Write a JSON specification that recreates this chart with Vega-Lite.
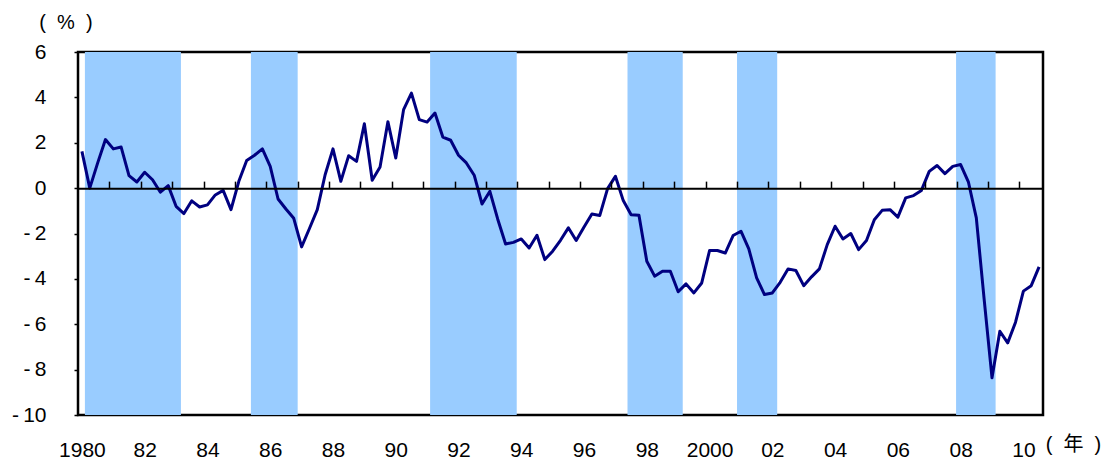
{
  "$schema": "https://vega.github.io/schema/vega-lite/v6.json",
  "width": 965,
  "height": 363,
  "autosize": {"type": "none"},
  "padding": {"left": 78, "top": 52, "right": 67, "bottom": 44},
  "background": "white",
  "config": {
    "view": {"stroke": "black", "strokeWidth": 2.5},
    "font": "Liberation Sans",
    "axis": {"labelFont": "Liberation Sans", "labelFontSize": 21, "labelColor": "black", "titleColor": "black", "grid": false}
  },
  "datasets": {
    "bands": [
      {"start": 1980.22, "end": 1983.28},
      {"start": 1985.51, "end": 1987.0},
      {"start": 1991.22, "end": 1993.98},
      {"start": 1997.51, "end": 1999.27},
      {"start": 2001.0, "end": 2002.28},
      {"start": 2007.98, "end": 2009.24}
    ],
    "series": [
      {"t": 1980.125, "v": 1.62}, {"t": 1980.375, "v": 0.0}, {"t": 1980.625, "v": 1.1}, {"t": 1980.875, "v": 2.14},
      {"t": 1981.125, "v": 1.73}, {"t": 1981.375, "v": 1.81}, {"t": 1981.625, "v": 0.55}, {"t": 1981.875, "v": 0.27},
      {"t": 1982.125, "v": 0.70}, {"t": 1982.375, "v": 0.37}, {"t": 1982.625, "v": -0.18}, {"t": 1982.875, "v": 0.11},
      {"t": 1983.125, "v": -0.80}, {"t": 1983.375, "v": -1.12}, {"t": 1983.625, "v": -0.56}, {"t": 1983.875, "v": -0.83},
      {"t": 1984.125, "v": -0.74}, {"t": 1984.375, "v": -0.30}, {"t": 1984.625, "v": -0.10}, {"t": 1984.875, "v": -0.95},
      {"t": 1985.125, "v": 0.30}, {"t": 1985.375, "v": 1.22}, {"t": 1985.625, "v": 1.45}, {"t": 1985.875, "v": 1.73},
      {"t": 1986.125, "v": 0.96}, {"t": 1986.375, "v": -0.48}, {"t": 1986.625, "v": -0.92}, {"t": 1986.875, "v": -1.33},
      {"t": 1987.125, "v": -2.59}, {"t": 1987.375, "v": -1.78}, {"t": 1987.625, "v": -0.95}, {"t": 1987.875, "v": 0.59},
      {"t": 1988.125, "v": 1.73}, {"t": 1988.375, "v": 0.30}, {"t": 1988.625, "v": 1.43}, {"t": 1988.875, "v": 1.18},
      {"t": 1989.125, "v": 2.84}, {"t": 1989.375, "v": 0.35}, {"t": 1989.625, "v": 0.93}, {"t": 1989.875, "v": 2.93},
      {"t": 1990.125, "v": 1.33}, {"t": 1990.375, "v": 3.46}, {"t": 1990.625, "v": 4.19}, {"t": 1990.875, "v": 3.02},
      {"t": 1991.125, "v": 2.91}, {"t": 1991.375, "v": 3.31}, {"t": 1991.625, "v": 2.25}, {"t": 1991.875, "v": 2.11},
      {"t": 1992.125, "v": 1.45}, {"t": 1992.375, "v": 1.11}, {"t": 1992.625, "v": 0.57}, {"t": 1992.875, "v": -0.70},
      {"t": 1993.125, "v": -0.14}, {"t": 1993.375, "v": -1.37}, {"t": 1993.625, "v": -2.46}, {"t": 1993.875, "v": -2.39},
      {"t": 1994.125, "v": -2.24}, {"t": 1994.375, "v": -2.64}, {"t": 1994.625, "v": -2.08}, {"t": 1994.875, "v": -3.15},
      {"t": 1995.125, "v": -2.78}, {"t": 1995.375, "v": -2.30}, {"t": 1995.625, "v": -1.75}, {"t": 1995.875, "v": -2.31},
      {"t": 1996.125, "v": -1.71}, {"t": 1996.375, "v": -1.14}, {"t": 1996.625, "v": -1.21}, {"t": 1996.875, "v": -0.02},
      {"t": 1997.125, "v": 0.52}, {"t": 1997.375, "v": -0.55}, {"t": 1997.625, "v": -1.17}, {"t": 1997.875, "v": -1.20},
      {"t": 1998.125, "v": -3.22}, {"t": 1998.375, "v": -3.88}, {"t": 1998.625, "v": -3.66}, {"t": 1998.875, "v": -3.66},
      {"t": 1999.125, "v": -4.57}, {"t": 1999.375, "v": -4.22}, {"t": 1999.625, "v": -4.62}, {"t": 1999.875, "v": -4.18},
      {"t": 2000.125, "v": -2.75}, {"t": 2000.375, "v": -2.75}, {"t": 2000.625, "v": -2.86}, {"t": 2000.875, "v": -2.09},
      {"t": 2001.125, "v": -1.90}, {"t": 2001.375, "v": -2.68}, {"t": 2001.625, "v": -3.96}, {"t": 2001.875, "v": -4.69},
      {"t": 2002.125, "v": -4.62}, {"t": 2002.375, "v": -4.15}, {"t": 2002.625, "v": -3.56}, {"t": 2002.875, "v": -3.63},
      {"t": 2003.125, "v": -4.30}, {"t": 2003.375, "v": -3.91}, {"t": 2003.625, "v": -3.56}, {"t": 2003.875, "v": -2.49},
      {"t": 2004.125, "v": -1.68}, {"t": 2004.375, "v": -2.24}, {"t": 2004.625, "v": -2.00}, {"t": 2004.875, "v": -2.71},
      {"t": 2005.125, "v": -2.31}, {"t": 2005.375, "v": -1.39}, {"t": 2005.625, "v": -0.98}, {"t": 2005.875, "v": -0.95},
      {"t": 2006.125, "v": -1.28}, {"t": 2006.375, "v": -0.43}, {"t": 2006.625, "v": -0.33}, {"t": 2006.875, "v": -0.10},
      {"t": 2007.125, "v": 0.74}, {"t": 2007.375, "v": 1.00}, {"t": 2007.625, "v": 0.64}, {"t": 2007.875, "v": 0.96},
      {"t": 2008.125, "v": 1.04}, {"t": 2008.375, "v": 0.26}, {"t": 2008.625, "v": -1.31}, {"t": 2008.875, "v": -4.9},
      {"t": 2009.125, "v": -8.36}, {"t": 2009.375, "v": -6.31}, {"t": 2009.625, "v": -6.82}, {"t": 2009.875, "v": -5.91},
      {"t": 2010.125, "v": -4.54}, {"t": 2010.375, "v": -4.30}, {"t": 2010.625, "v": -3.47}
    ]
  },
  "layer": [
    {
      "data": {"name": "bands"},
      "mark": {"type": "rect", "color": "#99CCFF"},
      "encoding": {
        "x": {
          "field": "start", "type": "quantitative",
          "scale": {"domain": [1980, 2010.75], "nice": false, "zero": false},
          "axis": {
            "orient": "bottom",
            "values": [1980.125, 1982.125, 1984.125, 1986.125, 1988.125, 1990.125, 1992.125, 1994.125, 1996.125, 1998.125, 2000.125, 2002.125, 2004.125, 2006.125, 2008.125, 2010.125],
            "labelExpr": "floor(datum.value) == 1980 || floor(datum.value) == 2000 ? '' + floor(datum.value) : slice('0' + (floor(datum.value) % 100), -2)",
            "domain": false, "ticks": false, "labelPadding": 24, "labelFlush": false, "labelOverlap": false,
            "title": "(\u00a0\u00a0年\u00a0\u00a0)",
            "titleFont": "Liberation Sans, Noto Sans CJK JP", "titleFontSize": 20, "titleFontWeight": "normal",
            "titleAngle": 0, "titleAlign": "center", "titleBaseline": "middle", "titleX": 995, "titleY": 29.5
          }
        },
        "x2": {"field": "end"}
      }
    },
    {
      "data": {"name": "series"},
      "mark": {"type": "line", "color": "#000080", "strokeWidth": 3, "strokeJoin": "round"},
      "encoding": {
        "x": {
          "field": "t", "type": "quantitative",
          "scale": {"domain": [1980, 2010.75], "nice": false, "zero": false},
          "axis": {
            "orient": "top", "offset": -136.125, "zindex": 1,
            "values": [1981, 1982, 1983, 1984, 1985, 1986, 1987, 1988, 1989, 1990, 1991, 1992, 1993, 1994, 1995, 1996, 1997, 1998, 1999, 2000, 2001, 2002, 2003, 2004, 2005, 2006, 2007, 2008, 2009, 2010],
            "labels": false, "title": null,
            "domain": true, "domainColor": "black", "domainWidth": 2,
            "ticks": true, "tickSize": 7, "tickColor": "black", "tickWidth": 1.5
          }
        },
        "y": {
          "field": "v", "type": "quantitative",
          "scale": {"domain": [-10, 6], "nice": false, "zero": false},
          "axis": {
            "values": [-10, -8, -6, -4, -2, 0, 2, 4, 6],
            "labelExpr": "datum.value < 0 ? '-\u2009' + (-datum.value) : '' + datum.value",
            "domain": false, "ticks": true, "tickSize": 4, "tickColor": "black", "tickWidth": 1.5,
            "labelPadding": 28,
            "title": "(\u00a0\u00a0%\u00a0\u00a0)",
            "titleFont": "Liberation Sans", "titleFontSize": 20, "titleFontWeight": "normal",
            "titleAngle": 0, "titleAlign": "center", "titleBaseline": "middle", "titleX": -12.5, "titleY": -30
          }
        }
      }
    }
  ],
  "resolve": {"axis": {"x": "independent"}}
}
